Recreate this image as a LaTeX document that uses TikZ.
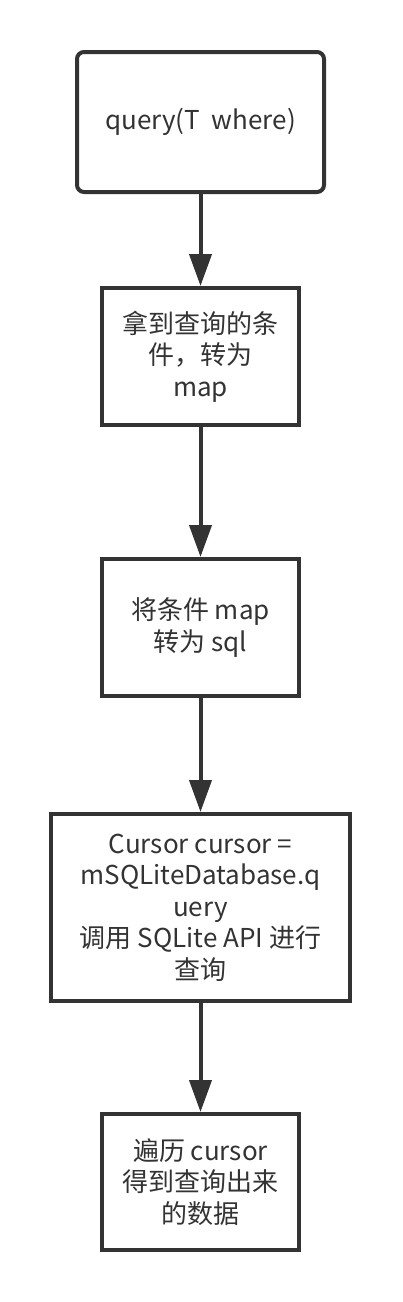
\documentclass[tikz,border=0pt]{standalone}
\usepackage{fontspec}
\setmainfont{Noto Sans CJK SC}
\usetikzlibrary{arrows.meta}
\definecolor{ink}{HTML}{333333}
\begin{document}
\begin{tikzpicture}[x=1pt,y=-1pt,
  box/.style={draw=ink, line width=4pt, fill=white, text=ink, align=center,
    font=\fontsize{26}{31.5}\selectfont, inner sep=0pt},
  arr/.style={draw=ink, line width=4pt, -{Triangle[length=32pt,width=22pt]}}]
\useasboundingbox[fill=white] (0,0) rectangle (402,1302);
\node[box, rounded corners=7pt, minimum width=247pt, minimum height=140pt] (q) at (200.5,122) {query(T\ \ where)};
\node[box, minimum width=197pt, minimum height=137pt] (c) at (200.5,356.5) {拿到查询的条\\件，转为\\map};
\node[box, minimum width=197pt, minimum height=137pt] (s) at (200.5,627.5) {将条件 map\\转为 sql};
\node[box, minimum width=299pt, minimum height=187pt] (d) at (200.5,907.5) {Cursor cursor =\\mSQLiteDatabase.q\\uery\\调用 SQLite API 进行\\查询};
\node[box, minimum width=197pt, minimum height=136pt] (r) at (200.5,1182) {遍历 cursor\\得到查询出来\\的数据};
\draw[arr] (q) -- (c);
\draw[arr] (c) -- (s);
\draw[arr] (s) -- (d);
\draw[arr] (d) -- (r);
\end{tikzpicture}
\end{document}
